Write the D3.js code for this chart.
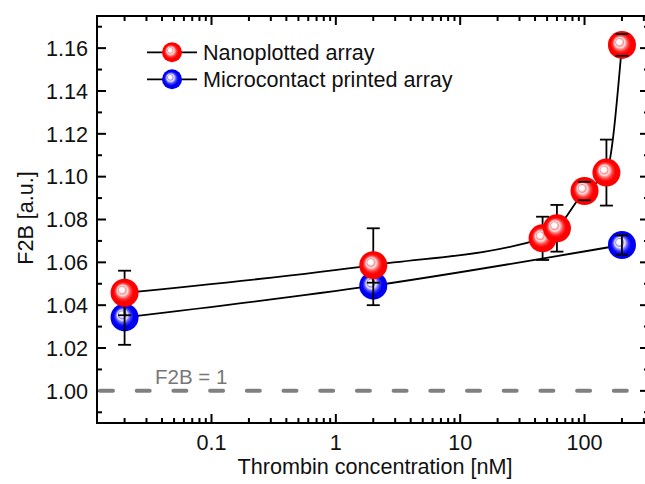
<!DOCTYPE html>
<html>
<head>
<meta charset="utf-8">
<script src="https://cdn.jsdelivr.net/npm/d3@7/dist/d3.min.js"></script>
<style>
  html, body { margin: 0; padding: 0; background: #fff; }
  svg { display: block; }
  text { font-family: "Liberation Sans", Arial, sans-serif; }
</style>
</head>
<body>
<svg id="chart" width="645" height="484"></svg>
<script>
// ---- data ----
const nanoX = [0.02, 2, 46, 60, 100, 150, 200];
const nanoY = [1.0458, 1.0587, 1.0712, 1.0759, 1.0933, 1.1019, 1.1615];
const nanoErrPlus = [0.0103, 0.0172, 0.0101, 0.0109, 0.0043, 0.0154, 0.0051];
const nanoErrMinus = [0.0105, 0.0082, 0.0101, 0.0109, 0.0043, 0.0154, 0.0051];
const microX = [0.02, 2, 200];
const microY = [1.0343, 1.0491, 1.0681];
const microErr = [0.0128, 0.0091, 0.0045];
const yTickValues = [1.00, 1.02, 1.04, 1.06, 1.08, 1.10, 1.12, 1.14, 1.16];
const xTickValues = [0.1, 1, 10, 100];
const xTickLabels = ["0.1", "1", "10", "100"];
const seriesNames = ["Nanoplotted array", "Microcontact printed array"];
const refValue = 1.0;
const refLabel = "F2B = 1";

// ---- layout ----
const svg = d3.select("#chart");
const L = 97, R = 649, T = 16, B = 423;
const FS = 21.6;
const x = d3.scaleLog().domain([0.012, 330]).range([L, R]);
const y = d3.scaleLinear().domain([0.985, 1.175]).range([B, T]);

svg.append("rect").attr("width", 645).attr("height", 484).attr("fill", "#fff");

// gradients for balls
const defs = svg.append("defs");
function ballGrad(id, base, mid, light) {
  const g = defs.append("radialGradient").attr("id", id)
    .attr("cx", "0.5").attr("cy", "0.5").attr("r", "0.5")
    .attr("fx", "0.38").attr("fy", "0.37");
  [[0, "#ffffff"], [0.18, "#ffffff"], [0.28, light], [0.36, "#ffe8e8"], [0.45, light],
   [0.58, mid], [0.72, base], [1, base]].forEach(([o, c]) =>
    g.append("stop").attr("offset", o).attr("stop-color", c));
}
ballGrad("gRed", "#ff0000", "#ff3030", "#ff8c8c");
ballGrad("gBlue", "#0000f0", "#3030ff", "#8c8cff");

// ---- minor/major ticks ----
const xMinor = [];
for (let e = -2; e <= 2; e++) for (let m = 1; m <= 9; m++) {
  const v = m * Math.pow(10, e);
  if (v >= 0.012 && v <= 330 && m !== 1) xMinor.push(v);
}
const yMinor = d3.range(0.99, 1.175, 0.02).map(v => +v.toFixed(2));

const ax = svg.append("g").attr("stroke", "#000").attr("stroke-width", 2);
const MAJ = 9, MIN = 5;
xTickValues.forEach(v => {
  ax.append("line").attr("x1", x(v)).attr("x2", x(v)).attr("y1", B).attr("y2", B - MAJ);
  ax.append("line").attr("x1", x(v)).attr("x2", x(v)).attr("y1", T).attr("y2", T + MAJ);
});
xMinor.forEach(v => {
  ax.append("line").attr("x1", x(v)).attr("x2", x(v)).attr("y1", B).attr("y2", B - MIN);
  ax.append("line").attr("x1", x(v)).attr("x2", x(v)).attr("y1", T).attr("y2", T + MIN);
});
yTickValues.forEach(v => {
  ax.append("line").attr("x1", L).attr("x2", L + MAJ).attr("y1", y(v)).attr("y2", y(v));
  ax.append("line").attr("x1", R).attr("x2", R - MAJ).attr("y1", y(v)).attr("y2", y(v));
});
yMinor.forEach(v => {
  ax.append("line").attr("x1", L).attr("x2", L + MIN).attr("y1", y(v)).attr("y2", y(v));
  ax.append("line").attr("x1", R).attr("x2", R - MIN).attr("y1", y(v)).attr("y2", y(v));
});
ax.append("rect").attr("x", L).attr("y", T).attr("width", R - L).attr("height", B - T)
  .attr("fill", "none");

// tick labels
svg.append("g").selectAll("text").data(yTickValues).join("text")
  .attr("x", L - 9).attr("y", d => y(d)).attr("dy", "0.36em")
  .attr("text-anchor", "end").attr("font-size", FS).attr("fill", "#111")
  .text(d => d.toFixed(2));
svg.append("g").selectAll("text").data(xTickValues).join("text")
  .attr("x", d => x(d)).attr("y", 450)
  .attr("text-anchor", "middle").attr("font-size", FS).attr("fill", "#111")
  .text((d, i) => xTickLabels[i]);

// axis titles
svg.append("text").attr("x", 375).attr("y", 474).attr("text-anchor", "middle")
  .attr("font-size", FS).attr("fill", "#111").text("Thrombin concentration [nM]");
svg.append("text").attr("transform", "translate(33,218) rotate(-90)")
  .attr("text-anchor", "middle").attr("font-size", FS).attr("fill", "#111").text("F2B [a.u.]");

// reference line
svg.append("line").attr("x1", L + 3).attr("x2", 645).attr("y1", y(refValue)).attr("y2", y(refValue))
  .attr("stroke", "#808080").attr("stroke-width", 4).attr("stroke-dasharray", "13,23.7")
  .attr("stroke-linecap", "round");
svg.append("text").attr("x", 155).attr("y", 384).attr("font-size", 20.5).attr("fill", "#777")
  .text(refLabel);

// ---- series lines ----
const lineGen = d3.line().x(d => x(d[0])).y(d => y(d[1])).curve(d3.curveMonotoneX);
const nano = nanoX.map((v, i) => [v, nanoY[i], nanoErrPlus[i], nanoErrMinus[i]]);
const micro = microX.map((v, i) => [v, microY[i], microErr[i], microErr[i]]);
svg.append("path").datum(micro).attr("d", lineGen).attr("fill", "none")
  .attr("stroke", "#000").attr("stroke-width", 1.8);
svg.append("path").datum(nano).attr("d", lineGen).attr("fill", "none")
  .attr("stroke", "#000").attr("stroke-width", 1.8);

const RB = 14, CAP = 6.5;
function balls(data, grad) {
  svg.append("g").selectAll("circle").data(data).join("circle")
    .attr("cx", d => x(d[0])).attr("cy", d => y(d[1])).attr("r", RB)
    .attr("fill", `url(#${grad})`);
}
function errLines(data) {
  svg.append("g").attr("stroke", "#000").attr("stroke-width", 1.8)
    .selectAll("line").data(data).join("line")
    .attr("x1", d => x(d[0])).attr("x2", d => x(d[0]))
    .attr("y1", d => y(d[1] + d[2])).attr("y2", d => y(d[1] - d[3]));
}
function errCaps(data) {
  const g = svg.append("g").attr("stroke", "#000").attr("stroke-width", 1.8);
  data.forEach(d => {
    [d[1] + d[2], d[1] - d[3]].forEach(v => {
      g.append("line").attr("x1", x(d[0]) - CAP).attr("x2", x(d[0]) + CAP)
        .attr("y1", y(v)).attr("y2", y(v));
    });
  });
}
balls(micro, "gBlue");
errLines(micro);
errCaps(micro);
errLines(nano);
balls(nano, "gRed");
errCaps(nano);

// ---- legend ----
const lg = svg.append("g");
[["gRed", 52.3], ["gBlue", 79.3]].forEach(([g, ly], i) => {
  lg.append("line").attr("x1", 147).attr("x2", 197).attr("y1", ly).attr("y2", ly)
    .attr("stroke", "#000").attr("stroke-width", 1.8);
  lg.append("circle").attr("cx", 172).attr("cy", ly).attr("r", 10).attr("fill", `url(#${g})`);
  lg.append("text").attr("x", 203).attr("y", ly).attr("dy", "0.36em")
    .attr("font-size", FS).attr("fill", "#111").text(seriesNames[i]);
});
</script>
</body>
</html>
